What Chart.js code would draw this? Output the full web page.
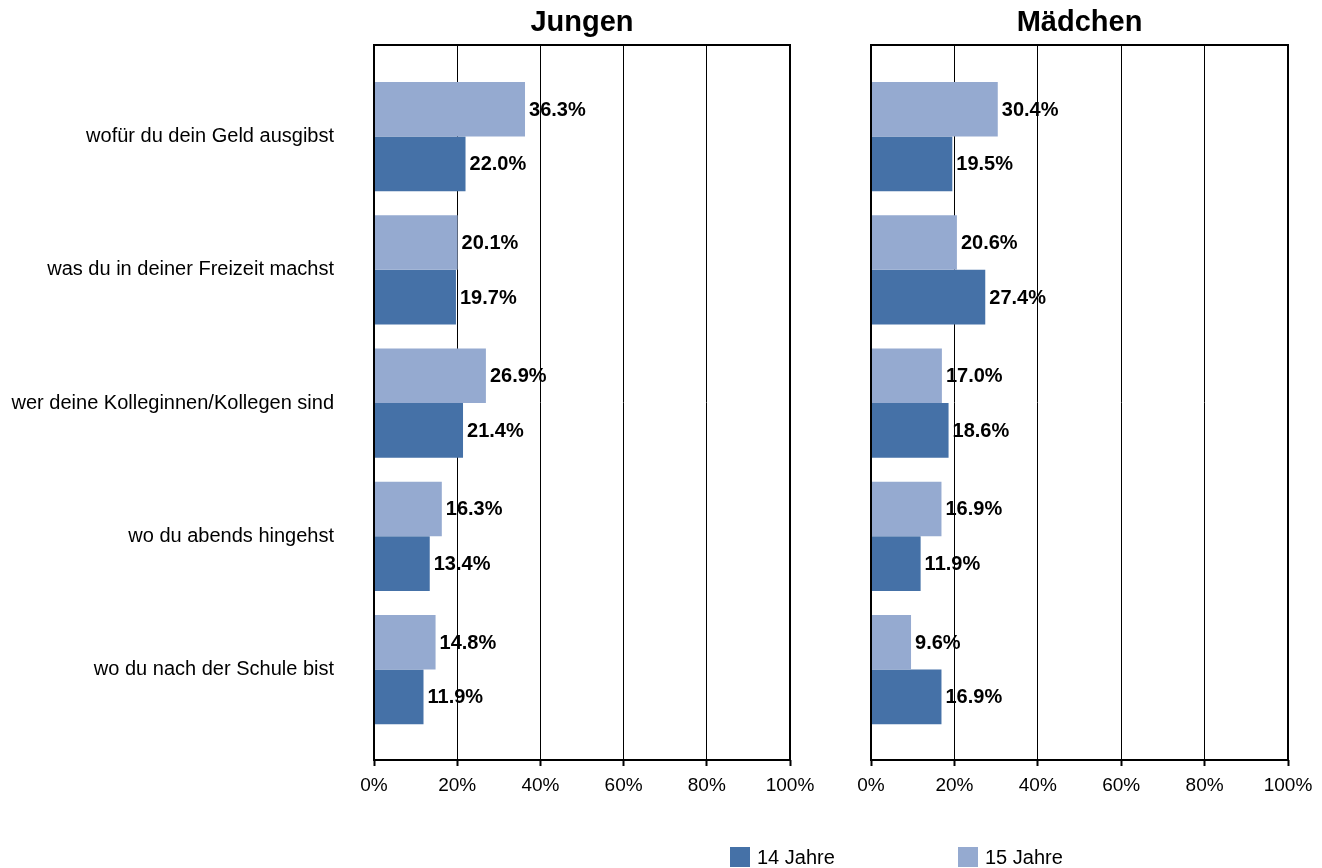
<!DOCTYPE html>
<html lang="de">
<head>
<meta charset="utf-8">
<title>Jungen / Mädchen</title>
<script src="https://cdn.jsdelivr.net/npm/chart.js@4.4.1/dist/chart.umd.min.js"></script>
<style>
    html, body { margin: 0; padding: 0; background: #fff; }
    body { width: 1322px; height: 868px; position: relative; overflow: hidden; font-family: Arial, 'Liberation Sans', sans-serif; }
    .panel { position: absolute; top: 0; height: 868px; }
    #jungenWrap { left: 0; width: 830px; }
    #maedchenWrap { left: 830px; width: 492px; }
    .legend-item { position: absolute; top: 847px; height: 20px; display: flex; align-items: center; font-size: 20px; color: #000; white-space: nowrap; }
    .legend-box { display: inline-block; width: 20px; height: 20px; margin-right: 7px; }
</style>
</head>
<body>
<div class="panel" id="jungenWrap"><canvas id="jungenChart"></canvas></div>
<div class="panel" id="maedchenWrap"><canvas id="maedchenChart"></canvas></div>
<div id="legend"></div>

<script>
// Daten
const categories = [
    'wofür du dein Geld ausgibst',
    'was du in deiner Freizeit machst',
    'wer deine Kolleginnen/Kollegen sind',
    'wo du abends hingehst',
    'wo du nach der Schule bist'
];
const seriesNames = ['14 Jahre', '15 Jahre'];
const jungen14 = [22.0, 19.7, 21.4, 13.4, 11.9];
const jungen15 = [36.3, 20.1, 26.9, 16.3, 14.8];
const maedchen14 = [19.5, 27.4, 18.6, 11.9, 16.9];
const maedchen15 = [30.4, 20.6, 17.0, 16.9, 9.6];
const xTicks = [0, 20, 40, 60, 80, 100];

const colors = {
    dark: '#4571a7',
    light: '#95aad0'
};
const FONT = 'Arial, "Liberation Sans", sans-serif';

// frame around plot area + value labels next to bars
const frameAndLabels = {
    id: 'frameAndLabels',
    afterDatasetsDraw(chart) {
        const ctx = chart.ctx;
        const a = chart.chartArea;
        ctx.save();
        ctx.strokeStyle = '#000';
        ctx.lineWidth = 2;
        ctx.strokeRect(a.left, a.top, a.right - a.left, a.bottom - a.top);

        ctx.font = 'bold 20px ' + FONT;
        ctx.fillStyle = '#000';
        ctx.textBaseline = 'middle';
        ctx.textAlign = 'left';
        chart.data.datasets.forEach((ds, i) => {
            chart.getDatasetMeta(i).data.forEach((bar, j) => {
                ctx.fillText(ds.data[j].x.toFixed(1) + '%', bar.x + 4, bar.y + 1);
            });
        });
        ctx.restore();
    }
};

function toPoints(values) {
    return values.map((v, i) => ({ x: v, y: i }));
}

function createPanel(canvasId, title, values14, values15, showCategories, yWidth, padRight) {
    const ctx = document.getElementById(canvasId);
    return new Chart(ctx, {
        type: 'bar',
        data: {
            datasets: [
                {
                    label: seriesNames[1],
                    data: toPoints(values15),
                    backgroundColor: colors.light,
                    borderWidth: 0
                },
                {
                    label: seriesNames[0],
                    data: toPoints(values14),
                    backgroundColor: colors.dark,
                    borderWidth: 0
                }
            ]
        },
        options: {
            indexAxis: 'y',
            responsive: true,
            maintainAspectRatio: false,
            animation: false,
            categoryPercentage: 0.82,
            barPercentage: 1.0,
            layout: {
                padding: { left: 0, right: padRight, top: 0, bottom: 58 }
            },
            plugins: {
                legend: { display: false },
                tooltip: { enabled: false },
                title: {
                    display: true,
                    text: title,
                    fullSize: false,
                    color: '#000',
                    font: { family: FONT, size: 29, weight: 'bold', lineHeight: 1 },
                    padding: { top: 8, bottom: 8 }
                }
            },
            scales: {
                x: {
                    type: 'linear',
                    min: 0,
                    max: 100,
                    afterBuildTicks: scale => {
                        scale.ticks = xTicks.map(v => ({ value: v }));
                    },
                    afterFit: scale => { scale.height = 50; },
                    ticks: {
                        color: '#000',
                        padding: 8,
                        maxRotation: 0,
                        font: { family: FONT, size: 19 },
                        callback: value => value + '%'
                    },
                    grid: {
                        color: '#000',
                        lineWidth: 1,
                        tickLength: 6,
                        tickWidth: 2,
                        tickColor: '#000'
                    },
                    border: { display: false }
                },
                y: {
                    type: 'linear',
                    reverse: true,
                    offset: false,
                    min: -0.687,
                    max: 4.679,
                    afterBuildTicks: scale => {
                        scale.ticks = categories.map((c, i) => ({ value: i }));
                    },
                    afterFit: scale => {
                        scale.width = yWidth;
                        scale.paddingTop = 0;
                        scale.paddingBottom = 0;
                    },
                    ticks: {
                        display: showCategories,
                        color: '#000',
                        padding: 40,
                        autoSkip: false,
                        font: { family: FONT, size: 20 },
                        callback: value => categories[value]
                    },
                    grid: { display: false, drawTicks: false, offset: false },
                    border: { display: false }
                }
            }
        },
        plugins: [frameAndLabels]
    });
}

function buildLegend() {
    const legend = document.getElementById('legend');
    const items = [
        { name: seriesNames[0], color: colors.dark, left: 730 },
        { name: seriesNames[1], color: colors.light, left: 958 }
    ];
    let html = '';
    items.forEach(item => {
        html += `
            <div class="legend-item" style="left:${item.left}px">
                <span class="legend-box" style="background:${item.color}"></span>${item.name}
            </div>
        `;
    });
    legend.innerHTML = html;
}

document.addEventListener('DOMContentLoaded', function() {
    createPanel('jungenChart', 'Jungen', jungen14, jungen15, true, 374, 40);
    createPanel('maedchenChart', 'Mädchen', maedchen14, maedchen15, false, 41, 34);
    buildLegend();
});
</script>
</body>
</html>
